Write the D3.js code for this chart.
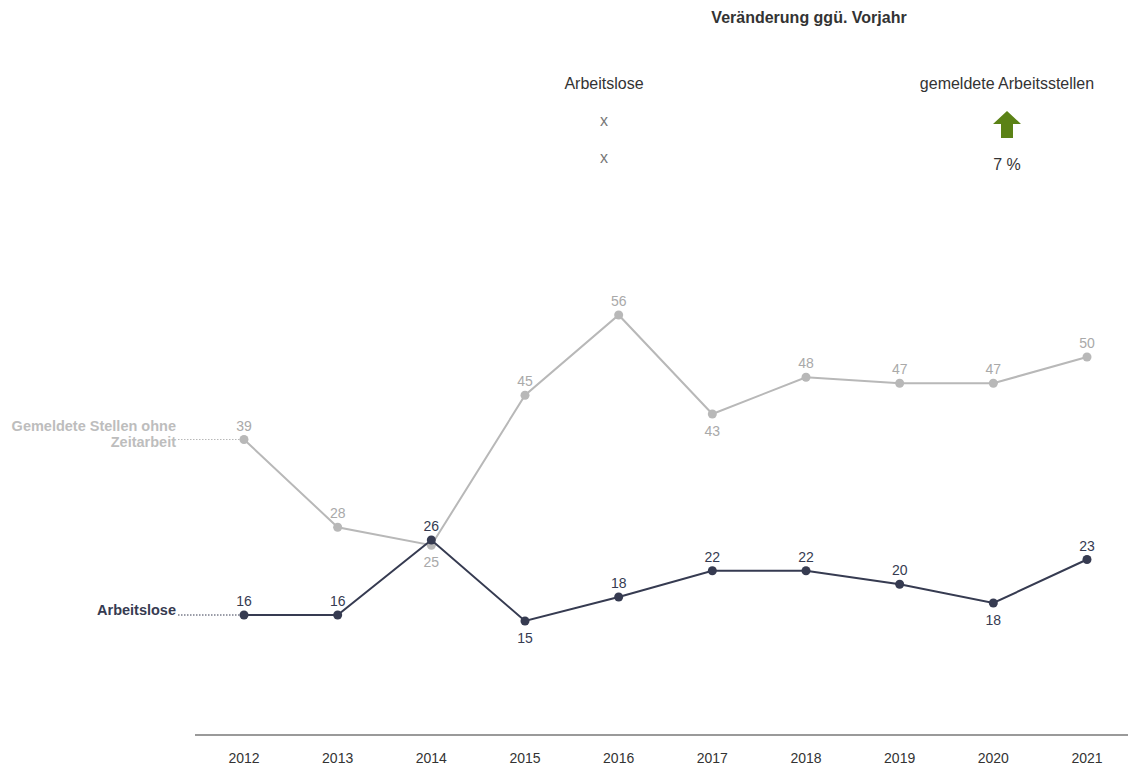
<!DOCTYPE html>
<html>
<head>
<meta charset="utf-8">
<script src="https://cdn.jsdelivr.net/npm/d3@7"></script>
<style>
body { margin: 0; background: #fff; font-family: "Liberation Sans", Arial, sans-serif; }
svg text { font-family: "Liberation Sans", Arial, sans-serif; }
</style>
</head>
<body>
<svg width="1130" height="766"></svg>
<script>
var years = ['2012', '2013', '2014', '2015', '2016', '2017', '2018', '2019', '2020', '2021'];
var stellen = [39.4, 27.7, 25.3, 45.3, 56.0, 42.8, 47.7, 46.9, 46.9, 50.4];
var arbeitslose = [16.0, 16.0, 26.0, 15.2, 18.4, 21.9, 21.9, 20.1, 17.6, 23.4];
// which labels sit below the point
var stellenBelow = [false, false, true, false, false, true, false, false, false, false];
var loseBelow = [false, false, false, true, false, false, false, false, true, false];

var svg = d3.select('svg'),
    g = svg.append('g');

var x = d3.scalePoint()
    .domain(years)
    .range([244, 1087]);

var y = d3.scaleLinear()
    .domain([0, 60])
    .range([735, 285]);

var line = d3.line()
    .x(function(d, i) { return x(years[i]); })
    .y(function(d) { return y(d); });

// axis
g.append('line')
    .attr('x1', 195).attr('x2', 1128)
    .attr('y1', 735).attr('y2', 735)
    .attr('stroke', '#9a9a9a').attr('stroke-width', 2);

g.selectAll('.tick-label')
    .data(years)
    .enter()
    .append('text')
    .attr('x', function(d) { return x(d); })
    .attr('y', 763)
    .attr('text-anchor', 'middle')
    .attr('font-size', 14)
    .attr('fill', '#333')
    .text(function(d) { return d; });

function drawSeries(values, below, color, labelColor) {
    g.append('path')
        .datum(values)
        .attr('d', line)
        .attr('fill', 'none')
        .attr('stroke', color)
        .attr('stroke-width', 2);

    g.selectAll(null)
        .data(values)
        .enter()
        .append('circle')
        .attr('cx', function(d, i) { return x(years[i]); })
        .attr('cy', function(d) { return y(d); })
        .attr('r', 4.5)
        .attr('fill', color);

    g.selectAll(null)
        .data(values)
        .enter()
        .append('text')
        .attr('x', function(d, i) { return x(years[i]); })
        .attr('y', function(d, i) { return below[i] ? y(d) + 22 : y(d) - 9; })
        .attr('text-anchor', 'middle')
        .attr('font-size', 14)
        .attr('fill', labelColor)
        .text(function(d) { return Math.round(d); });
}

drawSeries(stellen, stellenBelow, '#b8b8b8', '#a9a9a9');
drawSeries(arbeitslose, loseBelow, '#363b51', '#363b51');

// series names at left
g.append('line')
    .attr('x1', 178).attr('x2', 240)
    .attr('y1', y(stellen[0])).attr('y2', y(stellen[0]))
    .attr('stroke', '#b8b8b8').attr('stroke-width', 1)
    .attr('stroke-dasharray', '1.5,1.5');
g.append('text')
    .attr('x', 176).attr('y', 431)
    .attr('text-anchor', 'end')
    .attr('font-size', 14.5).attr('font-weight', 'bold')
    .attr('fill', '#bdbdbd')
    .text('Gemeldete Stellen ohne');
g.append('text')
    .attr('x', 176).attr('y', 447)
    .attr('text-anchor', 'end')
    .attr('font-size', 14.5).attr('font-weight', 'bold')
    .attr('fill', '#bdbdbd')
    .text('Zeitarbeit');

g.append('line')
    .attr('x1', 178).attr('x2', 240)
    .attr('y1', y(arbeitslose[0])).attr('y2', y(arbeitslose[0]))
    .attr('stroke', '#363b51').attr('stroke-width', 1)
    .attr('stroke-dasharray', '1.5,1.5');
g.append('text')
    .attr('x', 176).attr('y', 615)
    .attr('text-anchor', 'end')
    .attr('font-size', 14.5).attr('font-weight', 'bold')
    .attr('fill', '#363b51')
    .text('Arbeitslose');

// header: change vs previous year
var head = svg.append('g');
head.append('text')
    .attr('x', 809).attr('y', 23)
    .attr('text-anchor', 'middle')
    .attr('font-size', 16).attr('font-weight', 'bold')
    .attr('fill', '#333')
    .text('Veränderung ggü. Vorjahr');

head.append('text')
    .attr('x', 604).attr('y', 89)
    .attr('text-anchor', 'middle')
    .attr('font-size', 16).attr('fill', '#333')
    .text('Arbeitslose');
head.append('text')
    .attr('x', 604).attr('y', 126)
    .attr('text-anchor', 'middle')
    .attr('font-size', 16).attr('fill', '#777')
    .text('x');
head.append('text')
    .attr('x', 604).attr('y', 163)
    .attr('text-anchor', 'middle')
    .attr('font-size', 16).attr('fill', '#777')
    .text('x');

head.append('text')
    .attr('x', 1007).attr('y', 89)
    .attr('text-anchor', 'middle')
    .attr('font-size', 16).attr('fill', '#333')
    .text('gemeldete Arbeitsstellen');
head.append('path')
    .attr('d', 'M1007,111 L1021,124 L1013,124 L1013,138 L1001,138 L1001,124 L993,124 Z')
    .attr('fill', '#5b8216');
head.append('text')
    .attr('x', 1007).attr('y', 170)
    .attr('text-anchor', 'middle')
    .attr('font-size', 16).attr('fill', '#333')
    .text('7 %');
</script>
</body>
</html>
